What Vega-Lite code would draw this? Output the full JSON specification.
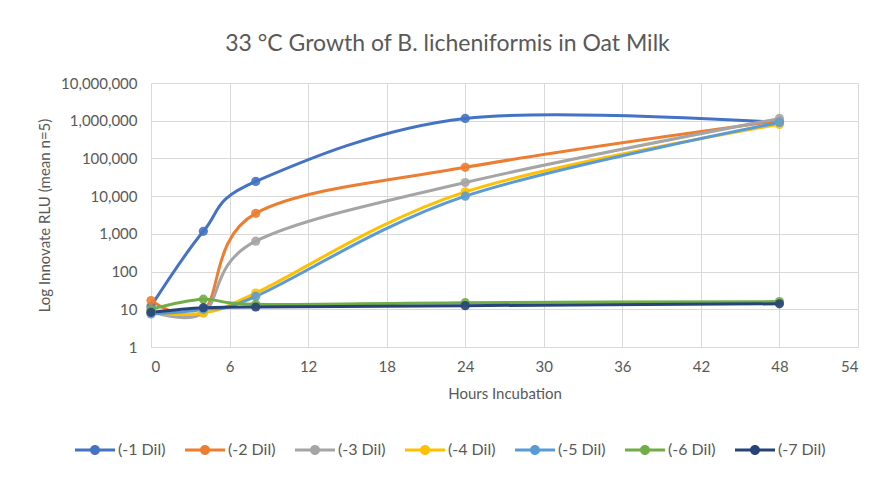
{
  "$schema": "https://vega.github.io/schema/vega-lite/v6.json",
  "width": 707,
  "height": 264,
  "autosize": {"type": "none"},
  "padding": {"left": 151, "top": 83, "right": 20, "bottom": 130},
  "background": "white",
  "config": {"view": {"stroke": null}, "font": "Lato"},
  "title": {"text": "33 °C Growth of B. licheniformis in Oat Milk", "font": "Lato", "fontSize": 23, "fontWeight": "normal", "color": "#595959", "anchor": "middle", "dx": -57, "offset": 20},
  "data": {"values": [
    {"series": "(-1 Dil)", "hours": 0, "rlu": 12},
    {"series": "(-1 Dil)", "hours": 4, "rlu": 1170},
    {"series": "(-1 Dil)", "hours": 8, "rlu": 24500},
    {"series": "(-1 Dil)", "hours": 24, "rlu": 1150000},
    {"series": "(-1 Dil)", "hours": 48, "rlu": 900000},
    {"series": "(-2 Dil)", "hours": 0, "rlu": 17},
    {"series": "(-2 Dil)", "hours": 4, "rlu": 9},
    {"series": "(-2 Dil)", "hours": 8, "rlu": 3500},
    {"series": "(-2 Dil)", "hours": 24, "rlu": 58000},
    {"series": "(-2 Dil)", "hours": 48, "rlu": 1000000},
    {"series": "(-3 Dil)", "hours": 0, "rlu": 9},
    {"series": "(-3 Dil)", "hours": 4, "rlu": 8},
    {"series": "(-3 Dil)", "hours": 8, "rlu": 640},
    {"series": "(-3 Dil)", "hours": 24, "rlu": 23000},
    {"series": "(-3 Dil)", "hours": 48, "rlu": 1150000},
    {"series": "(-4 Dil)", "hours": 0, "rlu": 8},
    {"series": "(-4 Dil)", "hours": 4, "rlu": 8},
    {"series": "(-4 Dil)", "hours": 8, "rlu": 27},
    {"series": "(-4 Dil)", "hours": 24, "rlu": 13000},
    {"series": "(-4 Dil)", "hours": 48, "rlu": 800000},
    {"series": "(-5 Dil)", "hours": 0, "rlu": 7.5},
    {"series": "(-5 Dil)", "hours": 4, "rlu": 10},
    {"series": "(-5 Dil)", "hours": 8, "rlu": 22},
    {"series": "(-5 Dil)", "hours": 24, "rlu": 10000},
    {"series": "(-5 Dil)", "hours": 48, "rlu": 900000},
    {"series": "(-6 Dil)", "hours": 0, "rlu": 10},
    {"series": "(-6 Dil)", "hours": 4, "rlu": 18.5},
    {"series": "(-6 Dil)", "hours": 8, "rlu": 13.5},
    {"series": "(-6 Dil)", "hours": 24, "rlu": 15},
    {"series": "(-6 Dil)", "hours": 48, "rlu": 16},
    {"series": "(-7 Dil)", "hours": 0, "rlu": 8.3},
    {"series": "(-7 Dil)", "hours": 4, "rlu": 11},
    {"series": "(-7 Dil)", "hours": 8, "rlu": 11.5},
    {"series": "(-7 Dil)", "hours": 24, "rlu": 12.5},
    {"series": "(-7 Dil)", "hours": 48, "rlu": 14}
  ]},
  "encoding": {
    "x": {"field": "hours", "type": "quantitative",
      "scale": {"domain": [0, 54], "nice": false, "zero": false},
      "axis": {"values": [0, 6, 12, 18, 24, 30, 36, 42, 48, 54], "title": "Hours Incubation", "ticks": false, "domain": false, "gridColor": "#D9D9D9", "gridWidth": 1, "labelFont": "Lato", "labelFontSize": 15, "labelColor": "#595959", "labelPadding": 12, "titleFont": "Lato", "titleFontSize": 15, "titleFontWeight": "normal", "titleColor": "#595959", "titlePadding": 12}},
    "y": {"field": "rlu", "type": "quantitative",
      "scale": {"type": "log", "domain": [1, 10000000], "nice": false},
      "axis": {"values": [1, 10, 100, 1000, 10000, 100000, 1000000, 10000000], "format": ",", "title": "Log Innovate RLU (mean n=5)", "ticks": false, "domain": false, "gridColor": "#D9D9D9", "gridWidth": 1, "labelFont": "Lato", "labelFontSize": 15, "labelColor": "#595959", "labelPadding": 14, "titleFont": "Lato", "titleFontSize": 15, "titleFontWeight": "normal", "titleColor": "#595959", "titlePadding": 8}},
    "color": {"field": "series", "type": "nominal",
      "scale": {"domain": ["(-1 Dil)", "(-2 Dil)", "(-3 Dil)", "(-4 Dil)", "(-5 Dil)", "(-6 Dil)", "(-7 Dil)"],
        "range": ["#4472C4", "#ED7D31", "#A5A5A5", "#FFC000", "#5B9BD5", "#70AD47", "#264478"]},
      "legend": {"title": null, "orient": "none", "legendX": -76, "legendY": 347, "direction": "horizontal", "columns": 7, "columnPadding": 19, "padding": 0,
        "symbolType": "M-1,-0.08H1V0.08H-1Z M-0.25,0A0.25,0.25 0 1,1 0.25,0A0.25,0.25 0 1,1 -0.25,0Z",
        "symbolSize": 1600, "symbolStrokeWidth": 0, "labelFont": "Lato", "labelFontSize": 16, "labelColor": "#595959", "labelOffset": 3,
        "encode": {"symbols": {"update": {"fill": {"scale": "color", "field": "value"}, "opacity": {"value": 1}, "fillOpacity": {"value": 1}}}}}}
  },
  "layer": [
    {"mark": {"type": "line", "interpolate": "cardinal", "strokeWidth": 3}},
    {"mark": {"type": "point", "filled": true, "size": 85, "opacity": 0.9}}
  ]
}
